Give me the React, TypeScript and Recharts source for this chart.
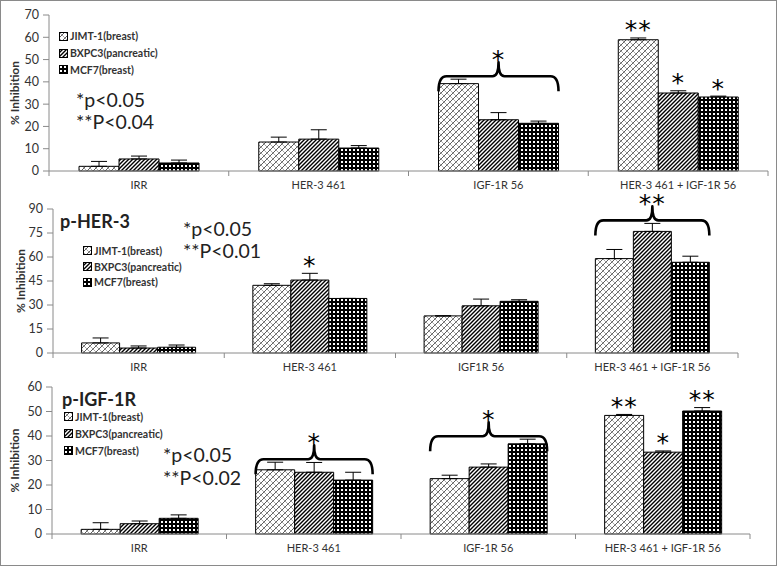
import React from 'react'
import { BarChart, Bar, XAxis, YAxis, ErrorBar, LabelList, Legend } from 'recharts'

const SERIES = ['JIMT-1(breast)', 'BXPC3(pancreatic)', 'MCF7(breast)']
const KEYS = ['jimt', 'bxpc', 'mcf']
const FILLS = ['url(#pat-jimt)', 'url(#pat-bxpc)', 'url(#pat-mcf)']

// total inhibition (top panel)
const topCats = ['IRR', 'HER-3 461', 'IGF-1R 56', 'HER-3 461 + IGF-1R 56']
const topJimt = [2.1, 13, 39.2, 58.9]
const topJimtErr = [2.2, 2.2, 2, 0.8]
const topBxpc = [5.4, 14.3, 23, 35]
const topBxpcErr = [1.3, 4.2, 3.2, 1]
const topMcf = [3.6, 10.3, 21.4, 33.2]
const topMcfErr = [1.3, 1.1, 1, 0.4]
const topJimtStar = ['', '', '', '**']
const topBxpcStar = ['', '', '', '*']
const topMcfStar = ['', '', '', '*']
const topGroupStar = ['', '', '*', '']
const topTicks = [0, 10, 20, 30, 40, 50, 60, 70]

// p-HER-3
const her3Cats = ['IRR', 'HER-3 461', 'IGF1R 56', 'HER-3 461 + IGF-1R 56']
const her3Jimt = [6.3, 42.3, 23.2, 59]
const her3JimtErr = [3.1, 1, 0, 5.7]
const her3Bxpc = [3.1, 45.6, 29.5, 76]
const her3BxpcErr = [1.3, 4.2, 4.2, 5]
const her3Mcf = [3.6, 34.1, 32.3, 56.7]
const her3McfErr = [1.4, 0, 1, 3.8]
const her3JimtStar = ['', '', '', '']
const her3BxpcStar = ['', '*', '', '']
const her3McfStar = ['', '', '', '']
const her3GroupStar = ['', '', '', '**']
const her3Ticks = [0, 15, 30, 45, 60, 75, 90]

// p-IGF-1R
const igfCats = ['IRR', 'HER-3 461', 'IGF-1R 56', 'HER-3 461 + IGF-1R 56']
const igfJimt = [1.9, 26.2, 22.6, 48.4]
const igfJimtErr = [2.7, 3.1, 1.4, 0.4]
const igfBxpc = [4.2, 25.2, 27.3, 33.4]
const igfBxpcErr = [1.1, 4, 1.3, 0.5]
const igfMcf = [6.4, 22, 36.8, 50.2]
const igfMcfErr = [1.4, 3.2, 1.9, 1.4]
const igfJimtStar = ['', '', '', '**']
const igfBxpcStar = ['', '', '', '*']
const igfMcfStar = ['', '', '', '**']
const igfGroupStar = ['', '*', '*', '']
const igfTicks = [0, 10, 20, 30, 40, 50, 60]

const FONT = "Lato, 'Open Sans', sans-serif"
const STAR_FONT = "'DejaVu Sans', sans-serif"
const STAR_SIZE = 25
const AXIS = '#8a8a8a'

function buildRows(cats, vals, errs, stars, groupStar) {
  return cats.map((cat, i) => ({
    cat,
    jimt: vals[0][i],
    bxpc: vals[1][i],
    mcf: vals[2][i],
    jimtErr: [0, errs[0][i]],
    bxpcErr: [0, errs[1][i]],
    mcfErr: [0, errs[2][i]],
    jimtStar: stars[0][i],
    bxpcStar: stars[1][i],
    mcfStar: stars[2][i],
    groupStar: groupStar[i],
    groupTop: Math.max(...[0, 1, 2].map((s) => vals[s][i] + errs[s][i])),
  }))
}

function Patterns() {
  return (
    <svg width={0} height={0} style={{ position: 'absolute' }}>
      <defs>
        <pattern id="pat-jimt" width={6} height={6} patternUnits="userSpaceOnUse">
          <rect width={6} height={6} fill="#fff" />
          <path d="M0,6 L6,0 M-1,1 L1,-1 M5,7 L7,5" stroke="#5e5e5e" strokeWidth={1} />
          <path d="M0,0 L6,6 M-1,5 L1,7 M5,-1 L7,1" stroke="#a8a8a8" strokeWidth={1} />
        </pattern>
        <pattern id="pat-bxpc" width={4} height={4} patternUnits="userSpaceOnUse">
          <rect width={4} height={4} fill="#fff" />
          <path d="M0,4 L4,0 M-1,1 L1,-1 M3,5 L5,3" stroke="#000" strokeWidth={1.4} />
        </pattern>
        <pattern id="pat-mcf" width={4} height={4} patternUnits="userSpaceOnUse">
          <rect width={4} height={4} fill="#000" />
          <rect x={1} y={1} width={2} height={2} fill="#fff" />
        </pattern>
      </defs>
    </svg>
  )
}

function CatTick(props) {
  const { x, y, payload, index, band, count } = props
  return (
    <g>
      <line x1={x - band / 2} x2={x - band / 2} y1={y} y2={y + 5} stroke={AXIS} />
      {index === count - 1 && <line x1={x + band / 2} x2={x + band / 2} y1={y} y2={y + 5} stroke={AXIS} />}
      <text x={x} y={y + 18} textAnchor="middle" fontSize={11} fill="#333" fontFamily={FONT}>
        {payload.value}
      </text>
    </g>
  )
}

function YLabel(props) {
  const { viewBox, labelX } = props
  const cy = viewBox.y + viewBox.height / 2
  return (
    <text
      x={labelX}
      y={cy}
      transform={`rotate(-90 ${labelX} ${cy})`}
      textAnchor="middle"
      dominantBaseline="central"
      fontSize={12}
      fontWeight="bold"
      fill="#333"
      fontFamily={FONT}
    >
      % Inhibition
    </text>
  )
}

function Stars({ cx, cy, label }) {
  return (
    <text x={cx} y={cy + STAR_SIZE * 0.58} textAnchor="middle" fontSize={STAR_SIZE} fontFamily={STAR_FONT} letterSpacing={1}>
      {label}
    </text>
  )
}

// star above a single bar, placed over its error bar
function renderStar(p, rows, key) {
  const row = rows[p.index]
  if (!row || !p.value) return null
  const ppu = p.height / row[key]
  const errTop = p.y - row[key + 'Err'][1] * ppu
  return <Stars cx={p.x + p.width / 2} cy={errTop - 14} label={p.value} />
}

// curly brace spanning the whole group, drawn from the middle bar
function renderBrace(p, rows) {
  const row = rows[p.index]
  if (!row || !row.groupStar) return null
  const ppu = p.height / row.bxpc
  const base = p.y + p.height
  const yb = base - row.groupTop * ppu - 3
  const x1 = p.x - p.width
  const x2 = p.x + 2 * p.width
  const xm = p.x + p.width / 2
  const drop = 15
  const spike = 14
  const d = `M${x1},${yb + drop} Q${x1},${yb} ${x1 + 8},${yb} L${xm - 6},${yb} Q${xm},${yb} ${xm},${yb - spike} Q${xm},${yb} ${xm + 6},${yb} L${x2 - 8},${yb} Q${x2},${yb} ${x2},${yb + drop}`
  return (
    <g>
      <path d={d} fill="none" stroke="#000" strokeWidth={2.6} strokeLinejoin="round" />
      <Stars cx={xm} cy={yb - spike - 9} label={row.groupStar} />
    </g>
  )
}

function LegendBox({ gap }) {
  return (
    <div style={{ fontFamily: FONT, fontSize: 10.5, fontWeight: 'bold', color: '#333' }}>
      {SERIES.map((name, i) => (
        <div key={name} style={{ display: 'flex', alignItems: 'center', height: gap }}>
          <svg width={9} height={9} style={{ marginRight: 2 }}>
            <rect x={0.5} y={0.5} width={8} height={8} fill={FILLS[i]} stroke="#000" />
          </svg>
          {name}
        </div>
      ))}
    </div>
  )
}

function Panel({ top, height, margin, yWidth, rows, ticks, legend, yLabelX }) {
  const width = 778
  const plotW = width - margin.left - margin.right - yWidth
  const band = plotW / rows.length
  return (
    <div style={{ position: 'absolute', left: 0, top }}>
      <BarChart width={width} height={height} data={rows} margin={margin} barCategoryGap="16.7%" barGap={0}>
        <XAxis
          dataKey="cat"
          height={24}
          stroke={AXIS}
          tickLine={false}
          tickSize={0}
          tickMargin={0}
          interval={0}
          tick={<CatTick band={band} count={rows.length} />}
        />
        <YAxis
          width={yWidth}
          domain={[ticks[0], ticks[ticks.length - 1]]}
          ticks={ticks}
          interval={0}
          stroke={AXIS}
          tickMargin={4}
          tick={{ fontSize: 12.5, fill: '#333', fontFamily: FONT }}
          label={<YLabel labelX={yLabelX} />}
        />
        <Legend
          layout="horizontal"
          align="center"
          verticalAlign="middle"
          wrapperStyle={{ left: legend.left, top: legend.top, width: 'auto' }}
          content={() => <LegendBox gap={legend.gap} />}
        />
        {KEYS.map((k, i) => (
          <Bar key={k} dataKey={k} name={SERIES[i]} fill={FILLS[i]} stroke="#000" strokeWidth={1} isAnimationActive={false}>
            <ErrorBar dataKey={k + 'Err'} width={8} stroke="#000" strokeWidth={1} direction="y" isAnimationActive={false} />
            <LabelList dataKey={k + 'Star'} content={(p) => renderStar(p, rows, k)} />
            {k === 'bxpc' && <LabelList dataKey="bxpc" content={(p) => renderBrace(p, rows)} />}
          </Bar>
        ))}
      </BarChart>
    </div>
  )
}

const textStyle = { position: 'absolute', fontFamily: FONT, color: '#222', whiteSpace: 'nowrap', lineHeight: 1 } as const

export default function App() {
  const topRows = buildRows(
    topCats,
    [topJimt, topBxpc, topMcf],
    [topJimtErr, topBxpcErr, topMcfErr],
    [topJimtStar, topBxpcStar, topMcfStar],
    topGroupStar,
  )
  const her3Rows = buildRows(
    her3Cats,
    [her3Jimt, her3Bxpc, her3Mcf],
    [her3JimtErr, her3BxpcErr, her3McfErr],
    [her3JimtStar, her3BxpcStar, her3McfStar],
    her3GroupStar,
  )
  const igfRows = buildRows(
    igfCats,
    [igfJimt, igfBxpc, igfMcf],
    [igfJimtErr, igfBxpcErr, igfMcfErr],
    [igfJimtStar, igfBxpcStar, igfMcfStar],
    igfGroupStar,
  )

  return (
    <div style={{ position: 'absolute', left: 0, top: 0, width: 778, height: 567, background: '#fff', overflow: 'hidden' }}>
      <Patterns />
      <Panel
        top={0}
        height={195}
        margin={{ top: 15, right: 10, left: 0, bottom: 0 }}
        yWidth={49}
        rows={topRows}
        ticks={topTicks}
        legend={{ left: 59, top: 28, gap: 16.7 }}
        yLabelX={14}
      />
      <Panel
        top={178}
        height={199}
        margin={{ top: 31, right: 40, left: 0, bottom: 0 }}
        yWidth={53}
        rows={her3Rows}
        ticks={her3Ticks}
        legend={{ left: 83, top: 65, gap: 15.7 }}
        yLabelX={20}
      />
      <Panel
        top={360}
        height={198}
        margin={{ top: 27, right: 28, left: 0, bottom: 0 }}
        yWidth={52}
        rows={igfRows}
        ticks={igfTicks}
        legend={{ left: 64, top: 48, gap: 17 }}
        yLabelX={14}
      />

      <div style={{ ...textStyle, left: 76, top: 90, fontSize: 19.5 }}>*p&lt;0.05</div>
      <div style={{ ...textStyle, left: 76, top: 112, fontSize: 19.5 }}>**P&lt;0.04</div>

      <div style={{ ...textStyle, left: 60, top: 212, fontSize: 18, fontWeight: 'bold' }}>p-HER-3</div>
      <div style={{ ...textStyle, left: 183, top: 219, fontSize: 19.5 }}>*p&lt;0.05</div>
      <div style={{ ...textStyle, left: 183, top: 241, fontSize: 19.5 }}>**P&lt;0.01</div>

      <div style={{ ...textStyle, left: 62, top: 390, fontSize: 18, fontWeight: 'bold' }}>p-IGF-1R</div>
      <div style={{ ...textStyle, left: 163, top: 445, fontSize: 19.5 }}>*p&lt;0.05</div>
      <div style={{ ...textStyle, left: 163, top: 468, fontSize: 19.5 }}>**P&lt;0.02</div>

      <div
        style={{
          position: 'absolute',
          left: 0,
          top: 0,
          width: 777,
          height: 566,
          border: '1.5px solid #8a8a8a',
          boxSizing: 'border-box',
          pointerEvents: 'none',
        }}
      />
    </div>
  )
}
